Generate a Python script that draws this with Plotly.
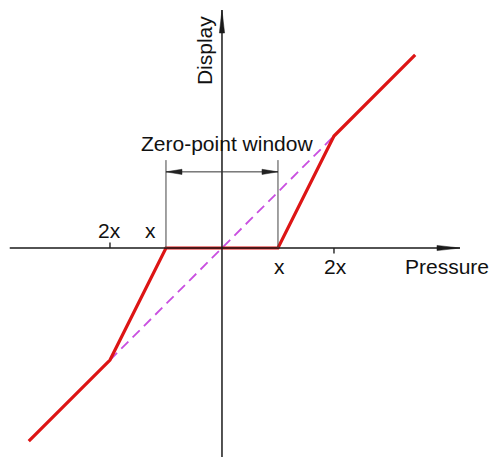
import plotly.graph_objects as go

# characteristic (in units of x)
pressure = [-3.45, -2, -1, 1, 2, 3.45]
display = [-3.45, -2, 0, 0, 2, 3.45]

# ideal line without zero-point window
ideal_p = [-2, 2]
ideal_d = [-2, 2]

window = [-1, 1]
window_level = 1.36
tick_pos = [-2, 2]
tick_labels = ["2x", "2x"]
x_labels = ["x", "x"]

# axis extents
p_axis = [-3.79, 4.25]
d_axis = [-3.8, 4.25]

fig = go.Figure()

fig.add_trace(go.Scatter(x=ideal_p, y=ideal_d, mode="lines",
                         line=dict(color="#c94fe0", width=1.8, dash="10px,6px"),
                         hoverinfo="skip"))
fig.add_trace(go.Scatter(x=pressure, y=display, mode="lines",
                         line=dict(color="#dd1515", width=3.2),
                         hoverinfo="skip"))

font = dict(family="Liberation Sans, Arial", size=21, color="#111")


def head(x, y, direction, length, half, color):
    # slim filled arrow head, drawn in pixels around an anchor point
    if direction == "right":
        path = f"M0,0 L{-length},{-half} L{-length},{half} Z"
    elif direction == "left":
        path = f"M0,0 L{length},{-half} L{length},{half} Z"
    else:
        path = f"M0,0 L{-half},{-length} L{half},{-length} Z"
    return dict(type="path", xref="x", yref="y", xsizemode="pixel", ysizemode="pixel",
                xanchor=x, yanchor=y, path=path, fillcolor=color,
                line=dict(color=color, width=0.5))


shapes = []
# axes
shapes.append(dict(type="line", x0=p_axis[0], x1=p_axis[1], y0=0, y1=0,
                   xref="x", yref="y", line=dict(color="#1a1a1a", width=1.5)))
shapes.append(dict(type="line", x0=0, x1=0, y0=d_axis[0], y1=d_axis[1],
                   xref="x", yref="y", line=dict(color="#1a1a1a", width=1.5)))
shapes.append(head(p_axis[1], 0, "right", 23, 2.6, "#1a1a1a"))
shapes.append(head(0, d_axis[1], "up", 23, 2.6, "#1a1a1a"))

# zero-point window
for w in window:
    shapes.append(dict(type="line", x0=w, x1=w, y0=0, y1=1.57, xref="x", yref="y",
                       line=dict(color="#444", width=1)))
shapes.append(dict(type="line", x0=window[0], x1=window[1], y0=window_level,
                   y1=window_level, xref="x", yref="y", line=dict(color="#333", width=1)))
shapes.append(head(window[0], window_level, "left", 16, 2.6, "#222"))
shapes.append(head(window[1], window_level, "right", 16, 2.6, "#222"))

# ticks at 2x
shapes.append(dict(type="line", x0=tick_pos[0], x1=tick_pos[0], y0=0, y1=0.1,
                   xref="x", yref="y", line=dict(color="#222", width=1.4)))
shapes.append(dict(type="line", x0=tick_pos[1], x1=tick_pos[1], y0=0, y1=-0.1,
                   xref="x", yref="y", line=dict(color="#222", width=1.4)))

ann = []
ann.append(dict(x=tick_pos[0], y=0.32, text=tick_labels[0], showarrow=False, font=font))
ann.append(dict(x=-1.27, y=0.32, text=x_labels[0], showarrow=False, font=font))
ann.append(dict(x=1.02, y=-0.33, text=x_labels[1], showarrow=False, font=font))
ann.append(dict(x=2.02, y=-0.33, text=tick_labels[1], showarrow=False, font=font))
ann.append(dict(x=0.09, y=1.875, text="Zero-point window", showarrow=False, font=font))
ann.append(dict(x=4.02, y=-0.33, text="Pressure", showarrow=False, font=font))
ann.append(dict(x=-0.3, y=3.52, text="Display", textangle=-90, showarrow=False, font=font))

fig.update_layout(
    width=491, height=457,
    margin=dict(l=0, r=0, t=0, b=0),
    plot_bgcolor="white", paper_bgcolor="white",
    showlegend=False,
    xaxis=dict(range=[-3.964, 4.804], visible=False),
    yaxis=dict(range=[-3.732, 4.429], visible=False),
    annotations=ann, shapes=shapes,
)

# drop the default body margin so the figure fills the window
fig.write_html("out.html", config={"displayModeBar": False},
               post_script="document.body.style.margin='0';"
                           "document.body.style.overflow='hidden';")
